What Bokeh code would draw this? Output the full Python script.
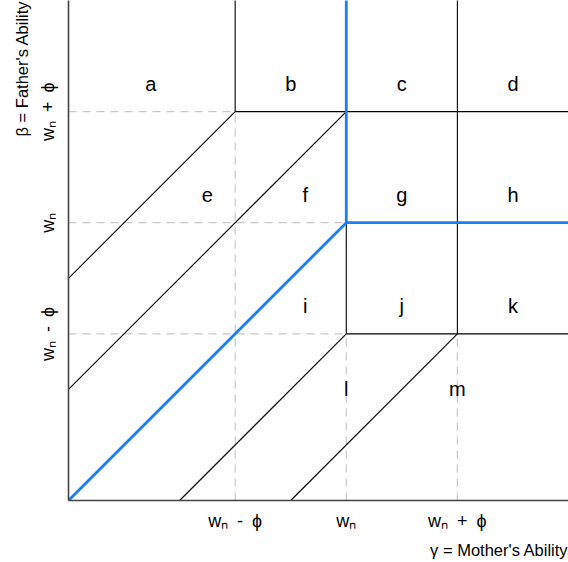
from bokeh.plotting import figure
from bokeh.models import Range1d, Title, ColumnDataSource, FixedTicker
from bokeh.core.properties import value
from bokeh.embed import file_html
from bokeh.resources import INLINE

# ---- data ----
phi = 1.0
wn = 2.5
tick_values = [wn - phi, wn, wn + phi]
tick_labels = ["wₙ\u2002-\u2002ϕ", "wₙ", "wₙ\u2002+\u2002ϕ"]

black_x0 = [0.0, 1.5, 1.5, 0.0, 1.0, 2.5, 2.5, 2.0, 3.5]
black_y0 = [2.0, 3.5, 3.5, 1.0, 0.0, 1.5, 1.5, 0.0, 1.5]
black_x1 = [1.5, 1.5, 4.6, 2.5, 2.5, 2.5, 4.6, 3.5, 3.5]
black_y1 = [3.5, 4.6, 3.5, 3.5, 1.5, 2.5, 1.5, 1.5, 4.6]

blue_x0 = [0.0, 2.5, 2.5]
blue_y0 = [0.0, 2.5, 2.5]
blue_x1 = [2.5, 2.5, 4.6]
blue_y1 = [2.5, 4.6, 2.5]

dash_x0 = [0.0, 0.0, 0.0, 1.5, 2.5, 3.5]
dash_y0 = [3.5, 2.5, 1.5, 0.0, 0.0, 0.0]
dash_x1 = [1.5, 2.5, 2.5, 1.5, 2.5, 3.5]
dash_y1 = [3.5, 2.5, 1.5, 3.5, 1.5, 1.5]

region_labels = ["a", "b", "c", "d", "e", "f", "g", "h", "i", "j", "k", "l", "m"]
region_x = [0.74, 2.0, 3.0, 4.0, 1.25, 2.13, 3.0, 4.0, 2.13, 3.0, 4.0, 2.5, 3.5]
region_y = [3.75, 3.75, 3.75, 3.75, 2.75, 2.75, 2.75, 2.75, 1.75, 1.75, 1.75, 1.0, 1.0]

x_title = "γ = Mother's Ability"
y_title = "β = Father's Ability"

FONT = "Liberation Sans"

p = figure(frame_width=500, frame_height=500,
           min_border_left=68, min_border_right=0, min_border_top=0, min_border_bottom=62,
           x_range=Range1d(0, 4.5), y_range=Range1d(0, 4.5),
           output_backend="svg", toolbar_location=None, tools="")
p.outline_line_color = None
p.grid.visible = False
p.background_fill_color = "white"

p.segment(x0=dash_x0, y0=dash_y0, x1=dash_x1, y1=dash_y1,
          line_color="#c8c8c8", line_width=1.2, line_dash="8 6")
p.segment(x0=black_x0, y0=black_y0, x1=black_x1, y1=black_y1,
          line_color="black", line_width=1.1)
p.segment(x0=blue_x0, y0=blue_y0, x1=blue_x1, y1=blue_y1,
          line_color="#1a7ef5", line_width=2.8)

src = ColumnDataSource(dict(x=region_x, y=region_y, t=region_labels))
p.text(x="x", y="y", text="t", source=src, text_align="center",
       text_baseline="alphabetic", text_font=value(FONT), text_font_size="20px",
       text_color="black")

for ax in (p.xaxis, p.yaxis):
    ax.ticker = FixedTicker(ticks=tick_values)
    ax.major_label_overrides = {v: l for v, l in zip(tick_values, tick_labels)}
    ax.major_tick_line_color = None
    ax.minor_tick_line_color = None
    ax.axis_line_color = "#444444"
    ax.axis_line_width = 1.6
    ax.major_label_text_font = FONT
    ax.major_label_text_font_size = "18px"
    ax.major_label_text_color = "black"
    ax.major_label_standoff = 4

p.yaxis.major_label_orientation = "vertical"

p.add_layout(Title(text=x_title, align="right", text_font=FONT, offset=0,
                   text_font_size="16.5px", text_font_style="normal",
                   text_color="black"), "below")
p.add_layout(Title(text=y_title, align="right", text_font=FONT,
                   text_font_size="16.5px", text_font_style="normal",
                   text_color="black"), "left")

open("out.html", "w").write(file_html(p, INLINE))
